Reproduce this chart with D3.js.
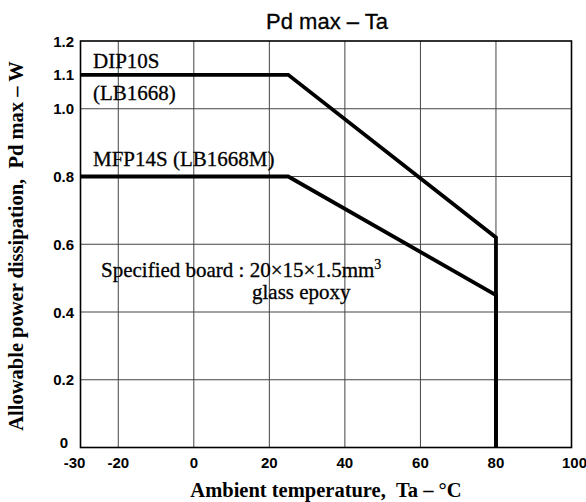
<!DOCTYPE html>
<html><head><meta charset="utf-8">
<script src="https://cdn.jsdelivr.net/npm/d3@7"></script>
<style>
html,body{margin:0;padding:0;background:#fff;}
svg{display:block;}
</style></head>
<body>
<svg id="c" width="586" height="502"></svg>
<script>
// ---- data ----
const titleText = "Pd max \u2013 Ta";
const xTicks = [-30, -20, 0, 20, 40, 60, 80, 100];
const xGrid = [-20, 0, 20, 40, 60, 80];
const yTicks = [0, 0.2, 0.4, 0.6, 0.8, 1.0, 1.1, 1.2];
const yTickLabels = ["0", "0.2", "0.4", "0.6", "0.8", "1.0", "1.1", "1.2"];
const yGrid = [0.2, 0.4, 0.6, 0.8, 1.0];
const tempDIP = [-30, 25, 80, 80];
const pdDIP = [1.1, 1.1, 0.62, 0];
const tempMFP = [-30, 25, 80, 80];
const pdMFP = [0.8, 0.8, 0.45, 0];
const xTitle = "Ambient temperature,\u00a0\u00a0Ta \u2013 \u00b0C";
const yTitle = "Allowable power dissipation,\u00a0\u00a0Pd max \u2013 W";

// ---- layout ----
const L = 80.5, R = 571.5, T = 41, B = 447.5;
const svg = d3.select("#c");
const x = d3.scaleLinear().domain([-30, 100]).range([L, R]);
const y = d3.scaleLinear().domain([0, 1.2]).range([B, T]);
const sans = "'Liberation Sans', Arial, Helvetica, sans-serif";
const serif = "'Liberation Serif', 'Times New Roman', Times, serif";

// grid
const g = svg.append("g");
g.selectAll("line.vx").data(xGrid).join("line")
  .attr("x1", d => x(d)).attr("x2", d => x(d)).attr("y1", T).attr("y2", B)
  .attr("stroke", "#444").attr("stroke-width", 1);
g.selectAll("line.hy").data(yGrid).join("line")
  .attr("class","hy")
  .attr("y1", d => y(d)).attr("y2", d => y(d)).attr("x1", L).attr("x2", R)
  .attr("stroke", "#444").attr("stroke-width", 1);

// frame
svg.append("rect").attr("x", L).attr("y", T).attr("width", R - L).attr("height", B - T)
  .attr("fill", "none").attr("stroke", "#000").attr("stroke-width", 1.6);

// curves
const line = d3.line().x(d => x(d[0])).y(d => y(d[1]));
const dip = tempDIP.map((t, i) => [t, pdDIP[i]]);
const mfp = tempMFP.map((t, i) => [t, pdMFP[i]]);
[dip, mfp].forEach(pts => {
  svg.append("path").attr("d", line(pts)).attr("fill", "none")
    .attr("stroke", "#000").attr("stroke-width", 3.8).attr("stroke-linejoin", "miter");
});

// x tick labels
svg.append("g").selectAll("text").data(xTicks).join("text")
  .attr("x", d => x(d) + (d === -30 ? -6 : d === 100 ? 3 : 0))
  .attr("y", 468)
  .attr("text-anchor", "middle")
  .attr("font-family", sans).attr("font-weight", "bold").attr("font-size", 15)
  .text(d => d);

// y tick labels
svg.append("g").selectAll("text").data(yTicks).join("text")
  .attr("x", d => d === 0 ? 68 : 74)
  .attr("y", d => d === 0 ? 448 : y(d) + 5.5)
  .attr("text-anchor", "end")
  .attr("font-family", sans).attr("font-weight", "bold").attr("font-size", 15)
  .text((d, i) => yTickLabels[i]);

// title
svg.append("text").attr("x", 327).attr("y", 29).attr("text-anchor", "middle")
  .attr("font-family", sans).attr("font-size", 22).attr("stroke", "#000").attr("stroke-width", 0.3)
  .text(titleText);

// axis titles
svg.append("text").attr("x", 326).attr("y", 497).attr("text-anchor", "middle")
  .attr("font-family", serif).attr("font-weight", "bold").attr("font-size", 20.5).text(xTitle);
svg.append("text").attr("transform", "translate(23,246) rotate(-90)").attr("text-anchor", "middle")
  .attr("font-family", serif).attr("font-weight", "bold").attr("font-size", 20.5).text(yTitle);

// annotations
const ann = svg.append("g").attr("font-family", serif).attr("font-size", 21).attr("fill", "#000")
  .attr("stroke", "#000").attr("stroke-width", 0.3);
ann.append("text").attr("x", 93).attr("y", 68).text("DIP10S");
ann.append("text").attr("x", 93).attr("y", 100).text("(LB1668)");
ann.append("text").attr("x", 93).attr("y", 166).text("MFP14S (LB1668M)");
const sb = ann.append("text").attr("x", 101).attr("y", 277);
sb.append("tspan").text("Specified board : 20\u00d715\u00d71.5mm");
sb.append("tspan").attr("dy", -8).attr("font-size", 14).text("3");
ann.append("text").attr("x", 252).attr("y", 299).text("glass epoxy");
</script>
</body></html>
